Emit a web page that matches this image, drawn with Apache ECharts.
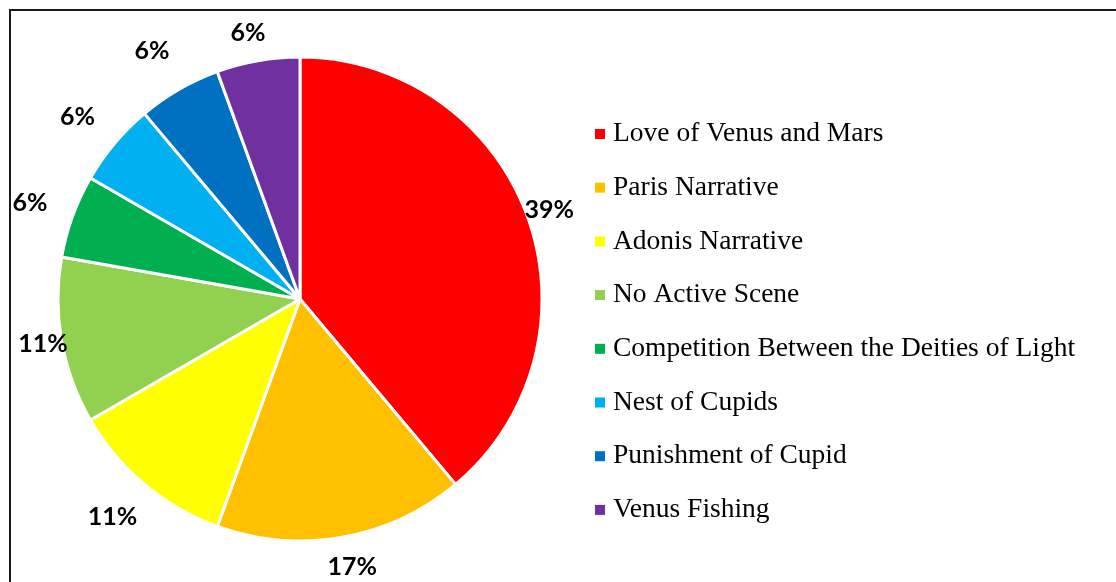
<!DOCTYPE html>
<html>
<head>
<meta charset="utf-8">
<script src="https://cdn.jsdelivr.net/npm/echarts@6/dist/echarts.min.js"></script>
<style>
  html, body { margin: 0; padding: 0; background: #fff; overflow: hidden; }
  #frame {
    position: absolute; left: 9px; top: 9px; width: 1200px; height: 700px;
    border-left: 2px solid #1a1a1a; border-top: 2px solid #1a1a1a;
  }
  #chart { position: absolute; left: 0; top: 0; width: 1116px; height: 582px; }
</style>
</head>
<body>
<div id="frame"></div>
<div id="chart"></div>
<script>
// scene counts (shares: 39%, 17%, 11%, 11%, 6% x4)
var scenes = ['Love of Venus and Mars', 'Paris Narrative', 'Adonis Narrative', 'No Active Scene',
    'Competition Between the Deities of Light', 'Nest of Cupids', 'Punishment of Cupid', 'Venus Fishing'];
var counts = [7, 3, 2, 2, 1, 1, 1, 1];
var colors = ['#ff0000', '#ffc000', '#ffff00', '#92d050', '#00b050', '#00b0f0', '#0070c0', '#7030a0'];
// how far each label sits outside the rim (Excel best-fit look)
var labelGap = [18, 30, 42, 14, 40, 42, 44, 28];

var chart = echarts.init(document.getElementById('chart'));

var total = counts.reduce(function (a, b) { return a + b; }, 0);
var pieData = scenes.map(function (name, i) {
    return {
        name: name,
        value: counts[i],
        itemStyle: { color: colors[i] },
        labelLine: { show: false, length: labelGap[i], length2: 0 }
    };
});

var option = {
    backgroundColor: 'transparent',
    animation: false,
    legend: {
        orient: 'vertical',
        left: 595,
        top: 120,
        padding: 0,
        icon: 'rect',
        itemWidth: 10,
        itemHeight: 10,
        itemGap: 25.7,
        itemStyle: { borderWidth: 0 },
        data: scenes,
        textStyle: {
            fontFamily: 'Liberation Serif',
            fontSize: 27.5,
            lineHeight: 27,
            color: '#000',
            padding: [0, 0, 0, 3]
        }
    },
    series: [{
        type: 'pie',
        center: [300, 299],
        radius: 242,
        startAngle: 90,
        clockwise: true,
        avoidLabelOverlap: false,
        itemStyle: {
            borderColor: '#fff',
            borderWidth: 3
        },
        label: {
            show: true,
            position: 'outside',
            formatter: function (p) {
                return Math.round(p.value / total * 100) + '%';
            },
            fontFamily: 'Lato',
            fontWeight: 'bold',
            fontSize: 25,
            color: '#000'
        },
        labelLine: { show: false },
        labelLayout: { align: 'center', verticalAlign: 'middle' },
        emphasis: { disabled: true },
        data: pieData
    }]
};

chart.setOption(option);
</script>
</body>
</html>
